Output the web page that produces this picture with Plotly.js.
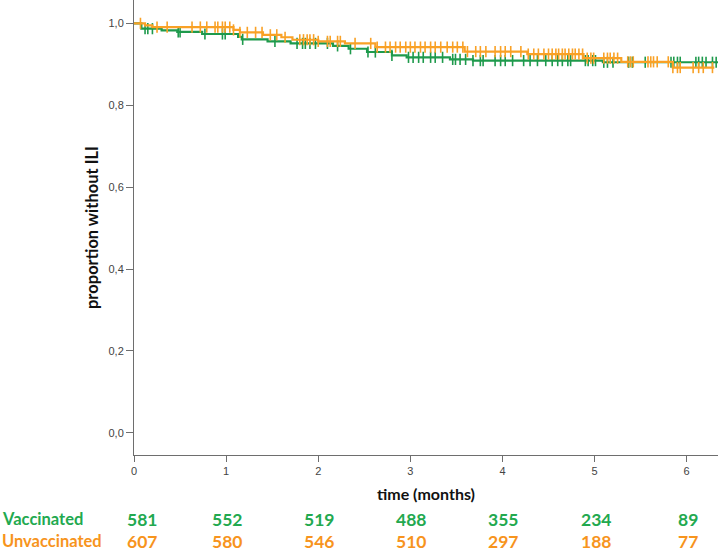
<!DOCTYPE html>
<html>
<head>
<meta charset="utf-8">
<script src="https://cdn.plot.ly/plotly-3.0.1.min.js"></script>
<style>
html,body{margin:0;padding:0;background:#fff;}
#chart{width:718px;height:551px;}
</style>
</head>
<body>
<div id="chart"></div>
<script>
// ---- Data ----
const vaccTimes = [0, 0.08, 0.30, 0.47, 0.74, 1.13, 1.17, 1.45, 1.70, 2.16, 2.33, 2.53, 2.80, 2.96, 3.43, 3.68, 5.09, 6.34];
const vaccSurv  = [1.0, 0.987, 0.983, 0.979, 0.974, 0.967, 0.961, 0.956, 0.951, 0.945, 0.938, 0.930, 0.922, 0.917, 0.912, 0.909, 0.905, 0.905];
const vaccCensor = [0.12,0.15,0.20,0.48,0.50,0.77,0.96,0.99,1.18,1.53,1.77,1.83,1.86,1.91,1.97,2.10,2.21,2.35,2.54,2.62,2.80,2.98,3.03,3.09,3.14,3.22,3.27,3.35,3.46,3.49,3.54,3.60,3.68,3.76,3.79,3.92,3.98,4.03,4.11,4.23,4.30,4.38,4.47,4.54,4.60,4.65,4.71,4.74,4.90,4.93,4.98,5.01,5.10,5.14,5.20,5.37,5.41,5.55,5.83,5.86,5.90,5.93,6.10,6.13,6.17,6.21,6.28,6.32];

const unvaccTimes = [0, 0.12, 0.20, 1.08, 1.15, 1.40, 1.60, 1.72, 2.00, 2.29, 2.62, 3.59, 4.27, 4.88, 5.29, 5.85, 6.30];
const unvaccSurv  = [1.0, 0.995, 0.991, 0.984, 0.978, 0.972, 0.966, 0.960, 0.956, 0.951, 0.942, 0.931, 0.925, 0.915, 0.906, 0.892, 0.892];
const unvaccCensor = [0.07,0.25,0.36,0.63,0.72,0.79,0.88,0.91,0.96,0.99,1.04,1.08,1.15,1.23,1.32,1.39,1.48,1.55,1.64,1.80,1.84,1.88,1.91,1.95,2.00,2.10,2.13,2.21,2.24,2.40,2.57,2.64,2.73,2.78,2.84,2.89,2.95,3.00,3.05,3.11,3.16,3.22,3.27,3.33,3.40,3.46,3.51,3.57,3.62,3.71,3.76,3.82,3.92,3.98,4.03,4.09,4.20,4.28,4.34,4.39,4.45,4.50,4.54,4.58,4.61,4.65,4.68,4.72,4.76,4.79,4.83,4.87,4.92,4.96,4.99,5.10,5.14,5.17,5.21,5.25,5.36,5.39,5.42,5.58,5.61,5.64,5.68,5.80,5.85,5.90,5.93,6.07,6.13,6.18,6.28];

const groupNames = ["Vaccinated", "Unvaccinated"];
const atRiskTimes = [0, 1, 2, 3, 4, 5, 6];
const vaccAtRisk   = [581, 552, 519, 488, 355, 234, 89];
const unvaccAtRisk = [607, 580, 546, 510, 297, 188, 77];

const xTickVals = [0, 1, 2, 3, 4, 5, 6];
const yTickVals = [0, 0.2, 0.4, 0.6, 0.8, 1.0];

// ---- Styles ----
const lineGreen = "#1e9a4c";
const lineOrange = "#f9a126";
const textGreen = "#22a94f";
const textOrange = "#f7941d";

function survAt(times, surv, t) {
  let s = surv[0];
  for (let i = 0; i < times.length; i++) { if (times[i] <= t) s = surv[i]; else break; }
  return s;
}

const traces = [];
function addGroup(times, surv, censor, color, name) {
  traces.push({x: times, y: surv, type: "scatter", mode: "lines", line: {shape: "hv", color: color, width: 2.2}, name: name, showlegend: false, hoverinfo: "skip"});
  traces.push({x: censor, y: censor.map(t => survAt(times, surv, t)), type: "scatter", mode: "markers",
    marker: {symbol: "line-ns", size: 8, line: {color: color, width: 1.6}}, showlegend: false, hoverinfo: "skip"});
}
addGroup(vaccTimes, vaccSurv, vaccCensor, lineGreen, groupNames[0]);
addGroup(unvaccTimes, unvaccSurv, unvaccCensor, lineOrange, groupNames[1]);

const annotations = [];
const rows = [{name: groupNames[0], vals: vaccAtRisk, color: textGreen, y: -0.141},
              {name: groupNames[1], vals: unvaccAtRisk, color: textOrange, y: -0.190}];
rows.forEach(r => {
  annotations.push({xref: "paper", yref: "paper", x: -134/584, y: r.y, xanchor: "left", yanchor: "middle",
    text: r.name, showarrow: false, font: {family: "Lato, sans-serif", size: 16.5, color: r.color, weight: "bold"}});
  r.vals.forEach((v, i) => {
    annotations.push({xref: "x", yref: "paper", x: atRiskTimes[i], y: r.y, xanchor: "center", yanchor: "middle",
      xshift: i === 0 ? 8 : 1, text: String(v), showarrow: false,
      font: {family: "Lato, sans-serif", size: 17.5, color: r.color, weight: "bold"}});
  });
});

const layout = {
  width: 718, height: 551,
  margin: {l: 134, r: 0, t: 0, b: 96},
  paper_bgcolor: "#fff", plot_bgcolor: "#fff",
  separators: ",.",
  showlegend: false,
  xaxis: {
    range: [0, 6.34], tickvals: xTickVals, tickformat: "d",
    showgrid: false, zeroline: false, showline: true, linecolor: "#6e6e6e", linewidth: 1,
    ticks: "outside", ticklen: 6, tickcolor: "#6e6e6e",
    tickfont: {family: "Liberation Sans, Arial, sans-serif", size: 11, color: "#444"},
    title: {text: "time (months)", standoff: 12, font: {family: "Lato, sans-serif", size: 16, color: "#111", weight: "bold"}}
  },
  yaxis: {
    range: [-0.054, 1.057], tickvals: yTickVals, tickformat: ".1f",
    showgrid: false, zeroline: false, showline: true, linecolor: "#6e6e6e", linewidth: 1,
    ticks: "outside", ticklen: 7, tickcolor: "#6e6e6e",
    tickfont: {family: "Liberation Sans, Arial, sans-serif", size: 11, color: "#444"},
    title: {text: "proportion without ILI", standoff: 5, font: {family: "Lato, sans-serif", size: 16.5, color: "#111", weight: "bold"}}
  },
  annotations: annotations
};

Plotly.newPlot("chart", traces, layout, {staticPlot: true, displayModeBar: false});
</script>
</body>
</html>
